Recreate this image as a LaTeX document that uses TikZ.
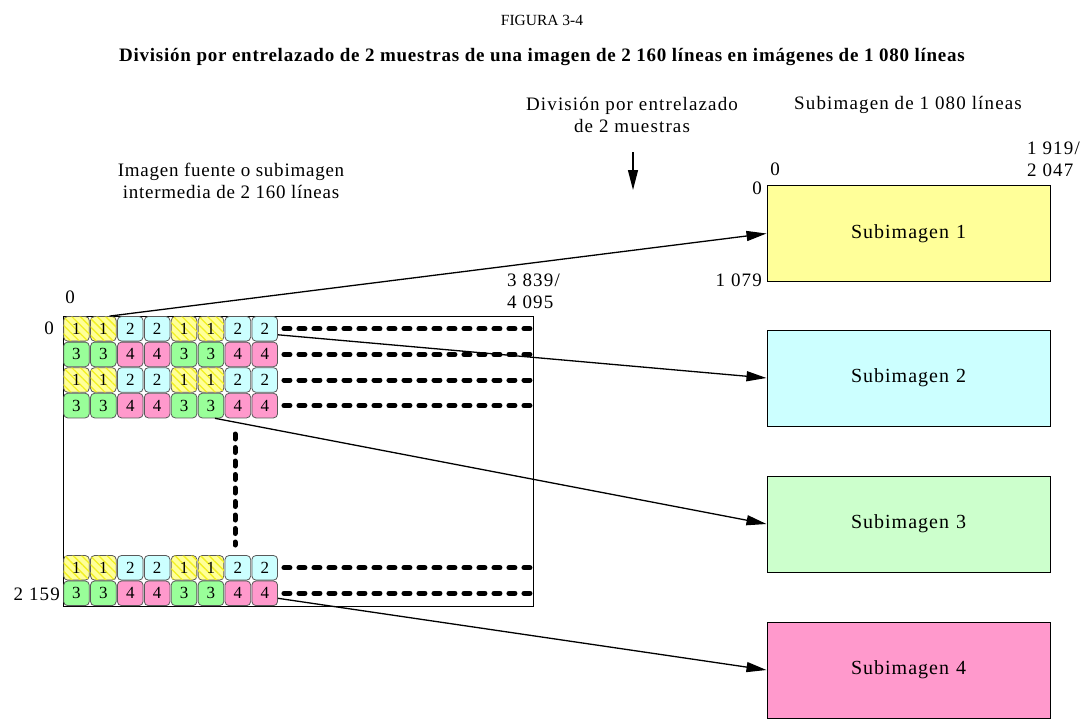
\documentclass[tikz,border=0pt]{standalone}
\usepackage{fontspec}
\setmainfont{Liberation Serif}
\usetikzlibrary{arrows.meta,patterns.meta}
\definecolor{cyel}{HTML}{FFFF99}
\definecolor{cyelS}{HTML}{F2F020}
\definecolor{ccyan}{HTML}{CCFFFF}
\definecolor{cgreen}{HTML}{99FF99}
\definecolor{cpink}{HTML}{FF99CC}
\definecolor{bgreen}{HTML}{CCFFCC}
\begin{document}
\begin{tikzpicture}[x=1pt,y=-1pt,
  lbl/.style={inner sep=0pt,font=\fontsize{19}{22}\selectfont\addfontfeature{LetterSpace=6}},
  cell/.style={draw=black!65,line width=0.8pt,rounded corners=4pt,minimum width=25.6pt,minimum height=24.6pt,inner sep=0pt,font=\fontsize{17}{18}\selectfont},
  c1/.style={cell,fill=cyel,postaction={pattern={Lines[angle=-45,distance=6pt,line width=1.3pt]},pattern color=cyelS}},
  c2/.style={cell,fill=ccyan},
  c3/.style={cell,fill=cgreen},
  c4/.style={cell,fill=cpink},
  subbox/.style={draw=black,line width=1pt,minimum width=283pt,minimum height=96pt,inner sep=0pt,font=\fontsize{20}{22}\selectfont\addfontfeature{LetterSpace=5}},
  dotline/.style={line width=5pt,line cap=round,dash pattern=on 6pt off 9pt},
  conn/.style={line width=1.3pt,-{Triangle[length=20pt,width=10pt]}}]
\useasboundingbox (0,0) rectangle (1085,720);
% titles
\node[inner sep=0pt,font=\fontsize{15.5}{18}\selectfont] (fig) at (542,20) {FIGURA 3-4};
\node[inner sep=0pt,font=\bfseries\fontsize{19}{22}\selectfont\addfontfeature{LetterSpace=4}] (title) at (542,57) {División por entrelazado de 2 muestras de una imagen de 2 160 líneas en imágenes de 1 080 líneas};
% source labels
\node[inner sep=0pt,font=\fontsize{19}{22}\selectfont\addfontfeature{LetterSpace=4},align=center] (srclbl) at (231,181) {Imagen fuente o subimagen\\intermedia de 2 160 líneas};
\node[lbl,align=center] (divlbl) at (632,115) {División por entrelazado\\de 2 muestras};
\coordinate (divA) at (633,152);
\coordinate (divB) at (633,190);
\draw[conn] (divA) -- (divB);
\node[lbl] (sublbl) at (908,105) {Subimagen de 1 080 líneas};
% big rectangle
\node[draw=black,line width=1pt,minimum width=470pt,minimum height=290pt,inner sep=0pt] (src) at (298,461) {};
\node[lbl] (s0a) at (70,297) {0};
\node[lbl,anchor=east] (s0b) at (54,328) {0};
\node[lbl,anchor=east] (s2159) at (60,594) {2 159};
\node[lbl,anchor=west,align=left] (s3839) at (507,291) {3 839/\\4 095};
% cells
\foreach \r/\y/\a/\b in {1/328.8/1/2, 2/354.4/3/4, 3/380/1/2, 4/405.6/3/4, 5/567.8/1/2, 6/593.3/3/4}{
  \foreach \k/\t in {1/\a,2/\a,3/\b,4/\b,5/\a,6/\a,7/\b,8/\b}{
    \node[c\t] (c\r\k) at ({63+26.9*(\k-0.5)},\y) {\t};
  }
  \draw[dotline] ([xshift=6pt]c\r8.east) -- ([xshift=-3pt]src.east |- c\r8.east);
}
\coordinate (vA) at (235,434);
\coordinate (vB) at (235,545);
\draw[line width=5pt,line cap=round,dash pattern=on 5pt off 8.5pt] (vA) -- (vB);
% sub-images
\node[subbox,fill=cyel] (b1) at (908.5,233.5) {Subimagen\hspace{0.35em}1};
\node[subbox,fill=ccyan] (b2) at (908.5,378) {Subimagen\hspace{0.35em}2};
\node[subbox,fill=bgreen] (b3) at (908.5,524) {Subimagen\hspace{0.35em}3};
\node[subbox,fill=cpink] (b4) at (908.5,670) {Subimagen\hspace{0.35em}4};
\node[lbl] (t0a) at (775,169) {0};
\node[lbl,anchor=east] (t0b) at (762,188) {0};
\node[lbl,anchor=east] (t1079) at (762,280) {1 079};
\node[lbl,anchor=west,align=left] (t1919) at (1027,159) {1 919/\\2 047};
% connectors
\draw[conn] ([xshift=-7pt]c12.north east) -- (b1.west);
\draw[conn] ([yshift=-6pt]c18.east) -- (b2.west);
\draw[conn] ([xshift=4pt]c46.south) -- (b3.west);
\draw[conn] ([yshift=-5pt]c68.east) -- (b4.west);
\end{tikzpicture}
\end{document}
